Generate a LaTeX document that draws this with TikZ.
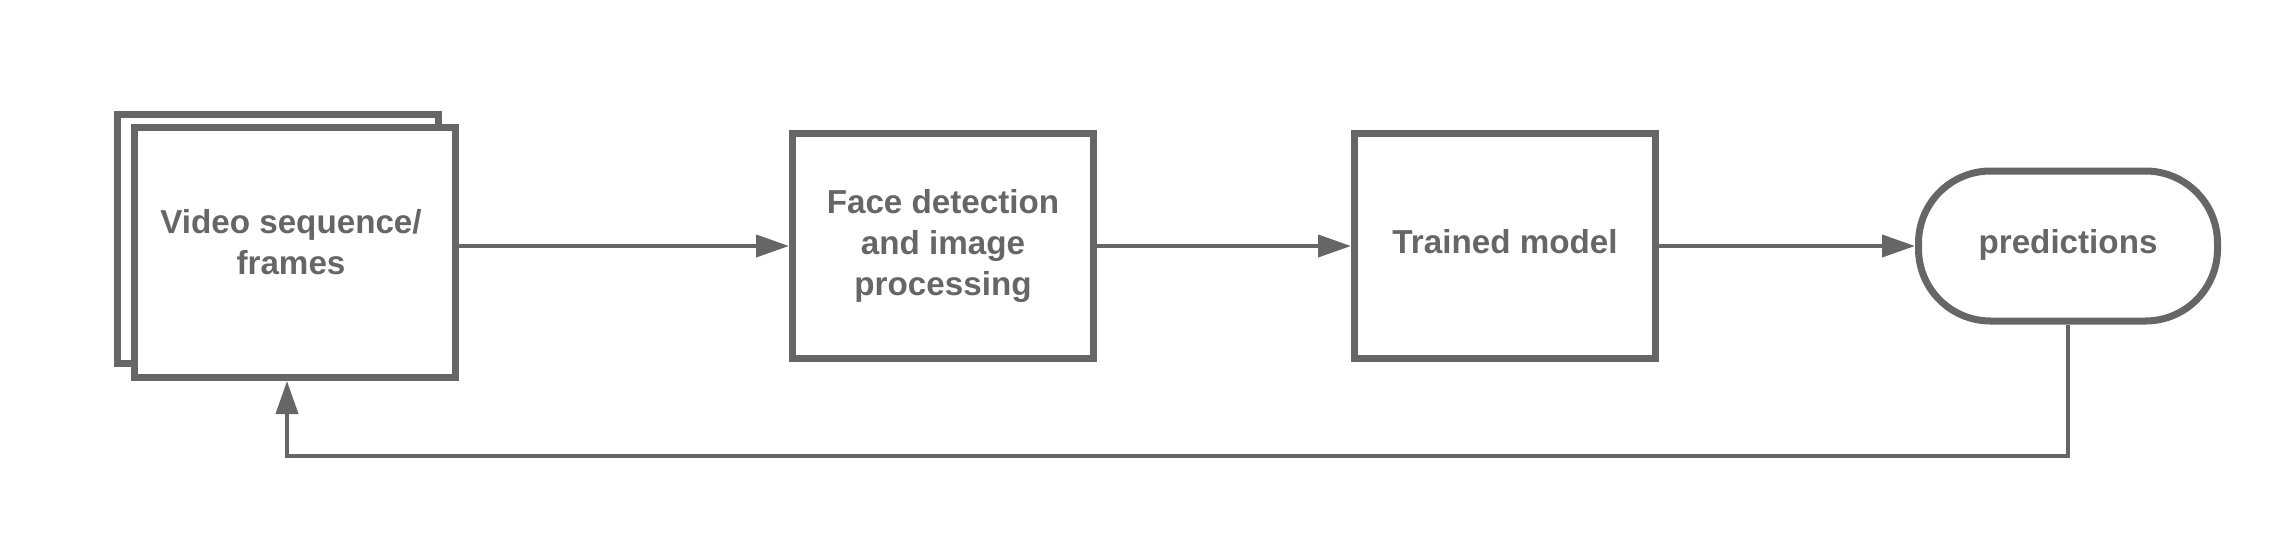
\documentclass[tikz,border=0pt]{standalone}
\usepackage{fontspec}
\setmainfont{Liberation Sans}
\usepackage{tikz}
\usetikzlibrary{arrows.meta,calc}
\usepackage{xcolor}
\definecolor{flowgray}{HTML}{666666}
\tikzstyle{box}=[draw=flowgray, line width=3.5pt, fill=white, rectangle, inner sep=0pt, minimum width=150.5pt, minimum height=112.5pt]
\tikzstyle{label}=[text=flowgray, font=\fontsize{16.6}{20.3}\selectfont\bfseries, align=center]
\tikzstyle{oneline}=[text height=12pt, text depth=5pt]
\tikzstyle{flow}=[draw=flowgray, line width=2pt, -{Triangle[length=16.5pt,width=11pt]}]

\begin{document}
\begin{tikzpicture}[x=0.5pt,y=-0.5pt]
\useasboundingbox (0,0) rectangle (2280,552);
\node[box, minimum width=160.5pt, minimum height=124.5pt] (back) at (278,239) {};
\node[box, minimum width=160.5pt, minimum height=125pt] (video) at (295,252.5) {};
\node[label] (videotxt) at (291,242) {Video sequence/\\frames};
\node[box, label] (face) at (943,246) {Face detection\\and image\\processing};
\node[box, label, oneline] (model) at (1505,246) {Trained model};
\node[box, label, oneline, rounded corners=36pt, minimum width=149.5pt, minimum height=75pt] (pred) at (2068,246) {predictions};
\coordinate (turn) at (287,456);
\draw[flow] (video.east |- face.west) -- (face.west);
\foreach \a/\b in {face/model,model/pred} {
	\draw[flow] (\a.east) -- (\b.west);
}
\draw[flow] (pred.south) |- (turn) -- (turn |- video.south);
\end{tikzpicture}
\end{document}
